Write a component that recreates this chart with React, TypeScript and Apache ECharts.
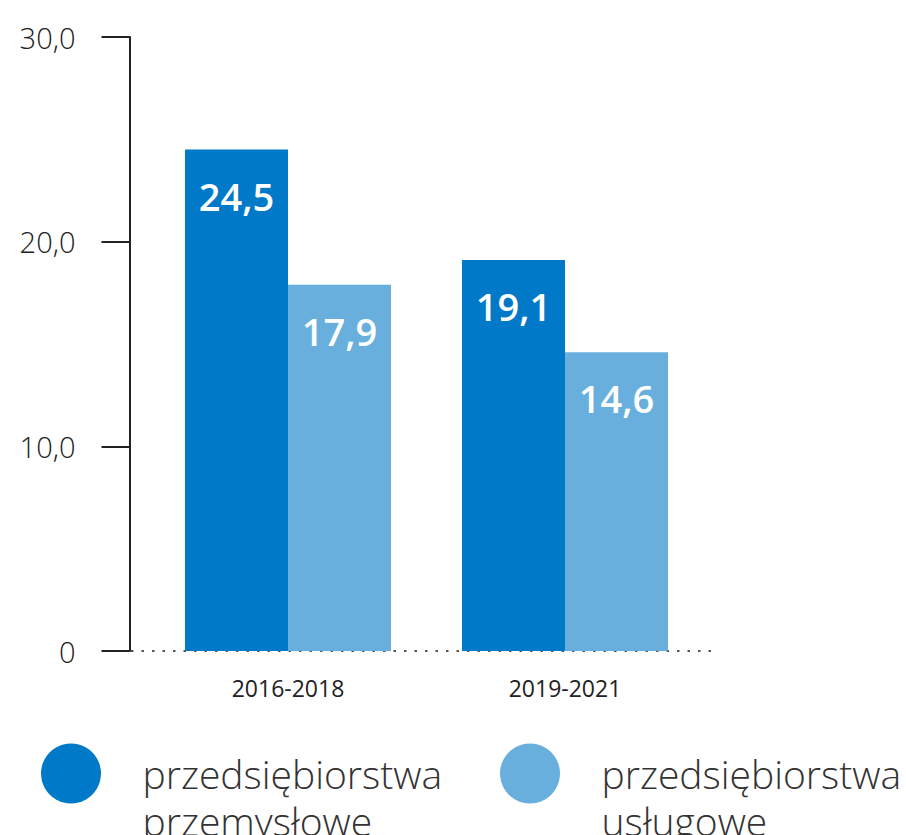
import React, { useEffect, useRef } from "react";
import * as echarts from "echarts";

const categories = ["2016-2018", "2019-2021"];
const seriesNames = ["przedsiębiorstwa\nprzemysłowe", "przedsiębiorstwa\nusługowe"];
const industrial = [24.5, 19.1];
const services = [17.9, 14.6];
const yTicks = [0, 10, 20, 30];
const colors = ["#0079C8", "#68AFDE"];

const FONT = "'Open Sans', 'Noto Sans', sans-serif";

export default function App() {
  const ref = useRef<HTMLDivElement>(null);
  useEffect(() => {
    document.body.style.margin = "0";
    const chart = echarts.init(ref.current!, null, { renderer: "svg" });
    const fmt = (v: number) => (v === 0 ? "0" : v.toFixed(1).replace(".", ","));
    const legendBase = {
      orient: "horizontal",
      icon: "circle",
      itemWidth: 97,
      itemHeight: 60,
      padding: 0,
      top: 703,
      selectedMode: false,
      formatter: (name: string) => "\n" + name,
      textStyle: {
        fontFamily: FONT,
        fontWeight: 300,
        fontSize: 39,
        lineHeight: 47,
        color: "#333",
        padding: [0, 0, 0, 18],
      },
    };
    chart.setOption({
      animation: false,
      color: colors,
      grid: { left: 149.5, right: 202.5, top: 37, bottom: 184, containLabel: false },
      legend: [
        { ...legendBase, left: 41, data: [seriesNames[0]] },
        { ...legendBase, left: 500, data: [seriesNames[1]] },
      ],
      xAxis: {
        type: "category",
        data: categories,
        axisLine: { show: false },
        axisTick: { show: false },
        axisLabel: { margin: 25, fontFamily: FONT, fontSize: 23, color: "#222" },
      },
      yAxis: {
        type: "value",
        min: yTicks[0],
        max: yTicks[yTicks.length - 1],
        interval: 10,
        offset: 20,
        splitLine: { show: false },
        axisLine: { show: true, lineStyle: { color: "#222", width: 2 } },
        axisTick: { show: true, length: 28, lineStyle: { color: "#222", width: 2 } },
        axisLabel: { margin: 54, fontFamily: FONT, fontWeight: 300, fontSize: 29, color: "#222", formatter: fmt },
      },
      graphic: [
        {
          type: "line",
          shape: { x1: 131, y1: 651, x2: 718, y2: 651 },
          style: { stroke: "#555", lineWidth: 2, lineDash: [2.5, 8] },
          z: -1,
        },
      ],
      series: [
        { name: seriesNames[0], data: industrial },
        { name: seriesNames[1], data: services },
      ].map((s) => ({
        ...s,
        type: "bar",
        barWidth: 103,
        barGap: "0%",
        label: {
          show: true,
          position: "insideTop",
          distance: 27,
          color: "#fff",
          fontFamily: FONT,
          fontWeight: 600,
          fontSize: 38,
          formatter: (p: any) => fmt(p.value),
        },
      })),
    });
    return () => chart.dispose();
  }, []);
  return <div ref={ref} style={{ width: 906, height: 835 }} />;
}
